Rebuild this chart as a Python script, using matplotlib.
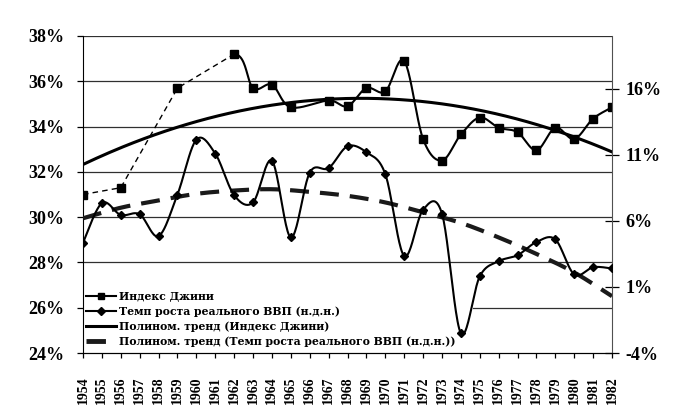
import numpy as np
import matplotlib
matplotlib.use("Agg")
import matplotlib.pyplot as plt
from matplotlib.lines import Line2D
from matplotlib.patches import Rectangle

plt.rcParams['font.family'] = ['Liberation Serif', 'DejaVu Serif']
plt.rcParams['font.weight'] = 'bold'

# --- данные ---
years = list(range(1954, 1983))
gini = [31.0, np.nan, 31.3, np.nan, np.nan, 35.7, np.nan, np.nan, 37.2, 35.7,
        35.85, 34.85, np.nan, 35.15, 34.9, 35.7, 35.55, 36.9, 33.45, 32.5,
        33.65, 34.4, 33.95, 33.75, 32.95, 33.95, 33.45, 34.35, 34.85]
gdp = [4.35, 7.35, 6.45, 6.5, 4.85, 8.0, 12.15, 11.1, 7.95, 7.4,
       10.55, 4.75, 9.65, 10.0, 11.65, 11.2, 9.55, 3.35, 6.85, 6.55,
       -2.5, 1.8, 2.95, 3.4, 4.4, 4.6, 1.95, 2.5, 2.4]
# тренд ВВП, как он нарисован (значения через год)
trend_years = [1954, 1956, 1958, 1960, 1962, 1964, 1966, 1968, 1970, 1972,
               1974, 1976, 1978, 1980, 1982]
gdp_trend = [6.2, 7.0, 7.55, 8.05, 8.3, 8.4, 8.2, 7.9, 7.4, 6.65,
             5.85, 4.75, 3.5, 2.1, 0.3]
dash_until = 1962          # до этого года линия Джини пунктирная
labels = ["Индекс Джини",
          "Темп роста реального ВВП (н.д.н.)",
          "Полином. тренд (Индекс Джини)",
          "Полином. тренд (Темп роста реального ВВП (н.д.н.))"]


def smooth(x, y, n=24):
    # сглаживание как в Excel (Безье по Катмулл-Рому)
    p = np.column_stack([x, y])
    P = np.vstack([p[0], p, p[-1]])
    out = []
    t = np.linspace(0, 1, n)[:, None]
    for i in range(len(p) - 1):
        p0, p1, p2, p3 = P[i], P[i + 1], P[i + 2], P[i + 3]
        c1 = p1 + (p2 - p0) / 6
        c2 = p2 - (p3 - p1) / 6
        seg = (1 - t) ** 3 * p1 + 3 * (1 - t) ** 2 * t * c1 + 3 * (1 - t) * t ** 2 * c2 + t ** 3 * p2
        out.append(seg if i == 0 else seg[1:])
    return np.vstack(out)


x = np.arange(len(years))
g = np.array(gini)
ok = ~np.isnan(g)
xg, yg = x[ok], g[ok]
yd = np.array(gdp)

fig = plt.figure(figsize=(6.82, 4.12), dpi=100)
ax = fig.add_axes([83 / 682, 59 / 412, 529 / 682, 317 / 412])
ax2 = ax.twinx()

# сетка по левой оси
ax.set_ylim(24, 38)
ax.set_yticks(range(24, 39, 2))
ax.set_yticklabels([f"{v}%" for v in range(24, 39, 2)])
for v in range(26, 39, 2):
    ax.axhline(v, color='#303030', lw=0.9, zorder=0.5)
ax.set_xlim(0, len(years) - 1)
ax.set_xticks(x)
ax.set_xticklabels([str(y) for y in years], rotation=90)

ax2.set_ylim(-4, 20)
ax2.set_yticks([-4, 1, 6, 11, 16])
ax2.set_yticklabels(["-4%", "1%", "6%", "11%", "16%"])

for a in (ax, ax2):
    a.spines['top'].set_visible(False)
    a.tick_params(labelsize=13)
ax.spines['right'].set_visible(False)
ax2.spines['left'].set_visible(False)
ax2.spines['right'].set_color('#505050')
ax.tick_params(axis='y', direction='out', length=4.5, width=0.9, pad=9)
ax.tick_params(axis='x', direction='out', length=3.8, width=0.9, pad=13, labelsize=10)
ax2.tick_params(axis='y', direction='inout', length=9.5, width=0.9, pad=5)

# фон легенды (закрывает сетку)
ax.add_patch(Rectangle((0, 0.003), 390 / 529, 68 / 317, transform=ax.transAxes,
                       facecolor='white', edgecolor='none', zorder=1))

# индекс Джини: до 1962 пунктир с прямыми отрезками, дальше сглаженная линия
k = int(np.searchsorted(xg, years.index(dash_until)))
ax.plot(xg[:k + 1], yg[:k + 1], color='black', lw=1.0, ls=(0, (4, 3)), zorder=3)
cg = smooth(xg, yg)
cut = k * 23
ax.plot(cg[cut:, 0], cg[cut:, 1], color='black', lw=1.5, zorder=3)
ax.plot(xg, yg, ls='none', marker='s', ms=5.5, color='black', zorder=4)

# полиномиальный тренд Джини
cg2 = np.polyfit(xg, yg, 2)
xs = np.linspace(0, len(years) - 1, 200)
ax.plot(xs, np.polyval(cg2, xs), color='black', lw=2.2, zorder=3)

# рост ВВП (правая ось)
cd = smooth(x, yd)
ax2.plot(cd[:, 0], cd[:, 1], color='black', lw=1.5, zorder=3)
ax2.plot(x, yd, ls='none', marker='D', ms=4, color='black', zorder=4)
tx = np.array([years.index(y) for y in trend_years])
ct = smooth(tx, np.array(gdp_trend))
ax2.plot(ct[:, 0], ct[:, 1], color='#1a1a1a', lw=3.0,
         dashes=(4.55, 2.65), zorder=2)

handles = [
    Line2D([], [], color='black', lw=1.5, marker='s', ms=5),
    Line2D([], [], color='black', lw=1.5, marker='D', ms=4),
    Line2D([], [], color='black', lw=2.2),
    Line2D([], [], color='#1a1a1a', lw=3.5, dashes=(4.0, 12)),
]
leg = ax.legend(handles, labels, loc='lower left', bbox_to_anchor=(0.005, 0.02),
                frameon=False, handlelength=2.8, handletextpad=0.25,
                labelspacing=0.36, borderpad=0, borderaxespad=0,
                prop={'family': 'DejaVu Serif', 'weight': 'bold', 'size': 7.8})
leg.set_zorder(2)

fig.savefig("out.png", dpi=100)
